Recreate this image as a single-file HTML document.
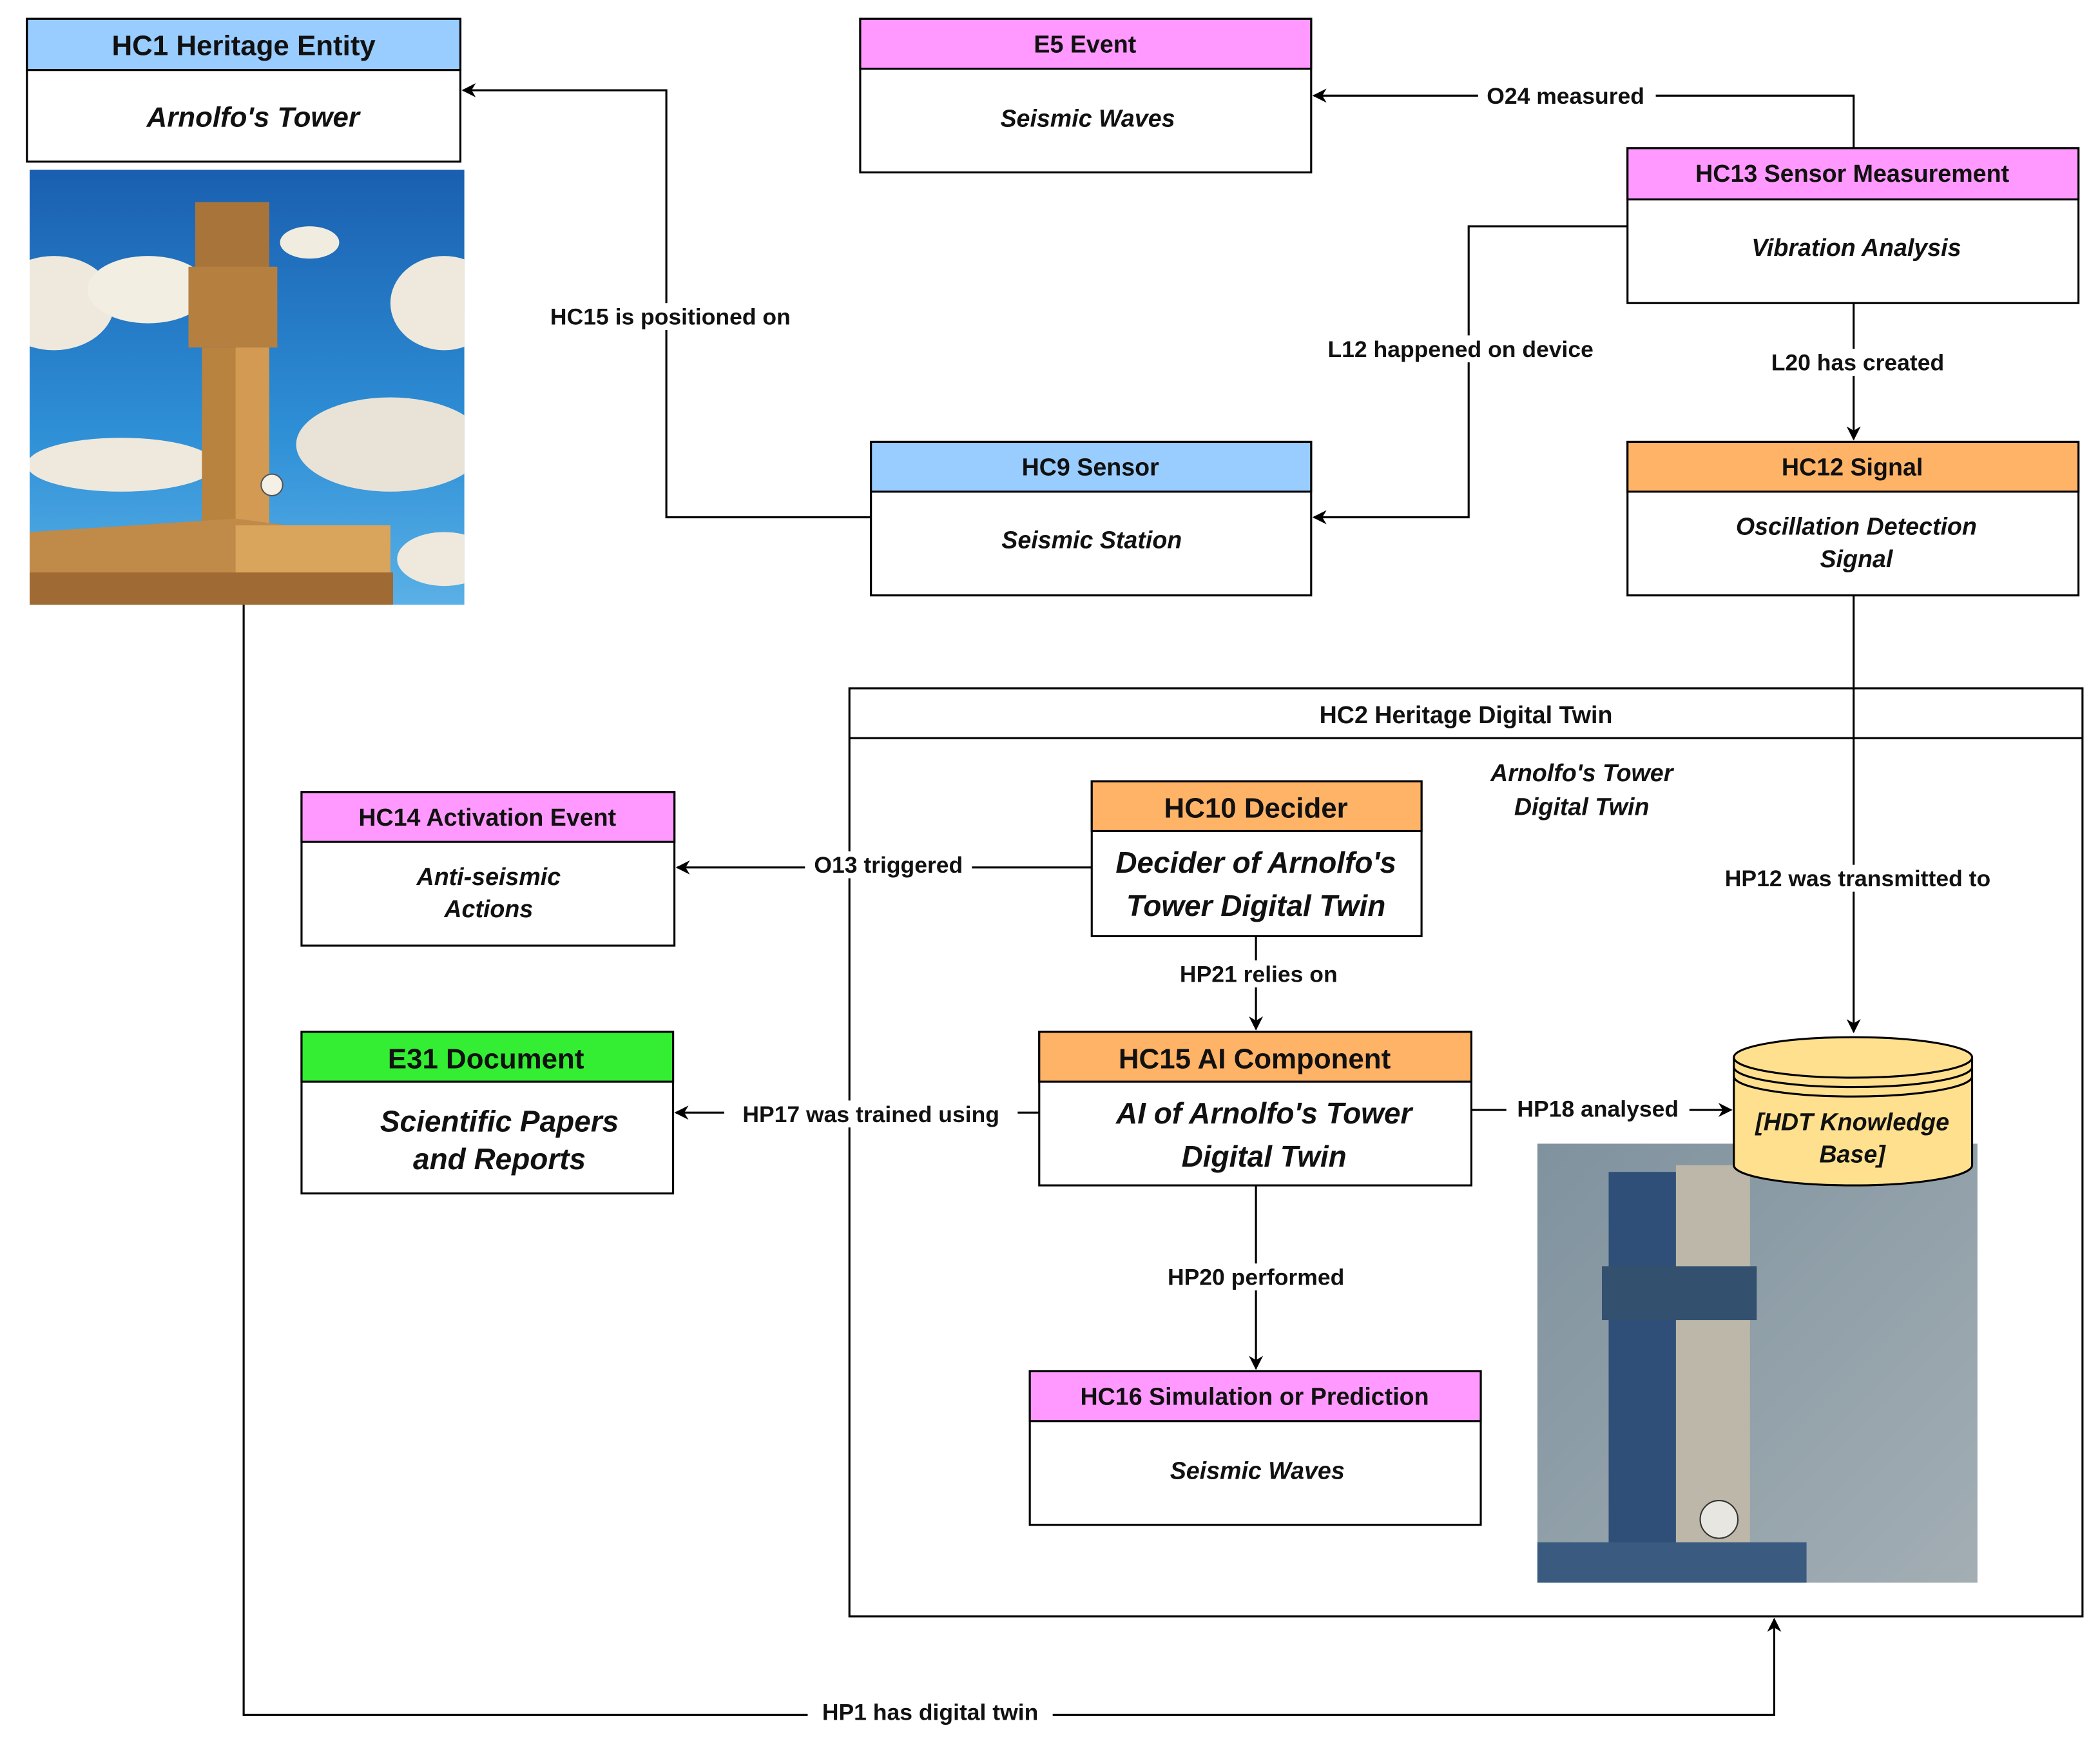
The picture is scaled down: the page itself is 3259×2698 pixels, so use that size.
<!DOCTYPE html>
<html><head><meta charset="utf-8"><style>
html,body{margin:0;padding:0;background:#fff;}
svg{display:block;}
text{font-family:"Liberation Sans",sans-serif;font-weight:bold;fill:#111;}
.it{font-style:italic;}
</style></head><body>
<svg width="3259" height="2698" viewBox="0 0 1560 1291" preserveAspectRatio="none" xmlns="http://www.w3.org/2000/svg">
<defs>
<marker id="ar" viewBox="0 0 10 10" refX="9" refY="5" markerWidth="7" markerHeight="7" orient="auto-start-reverse"><path d="M0,0 L10,5 L0,10 L3,5 z" fill="#000"/></marker>
<linearGradient id="sky" x1="0" y1="0" x2="0" y2="1"><stop offset="0" stop-color="#1a5fb0"/><stop offset="0.6" stop-color="#2e8fd6"/><stop offset="1" stop-color="#5ab0e6"/></linearGradient>
<linearGradient id="dig" x1="0" y1="0" x2="1" y2="1"><stop offset="0" stop-color="#7f929e"/><stop offset="1" stop-color="#a3aeb4"/></linearGradient>
<clipPath id="c1"><rect x="22" y="126" width="323" height="323"/></clipPath>
<clipPath id="c2"><rect x="1142" y="849" width="327" height="326"/></clipPath>
</defs>
<rect width="1560" height="1291" fill="#fff"/>

<!-- image 1 -->
<g clip-path="url(#c1)">
<rect x="22" y="126" width="323" height="323" fill="url(#sky)"/>
<ellipse cx="40" cy="225" rx="45" ry="35" fill="#eee9dc"/><ellipse cx="110" cy="215" rx="45" ry="25" fill="#f2eee2"/>
<ellipse cx="330" cy="225" rx="40" ry="35" fill="#eee9dc"/><ellipse cx="230" cy="180" rx="22" ry="12" fill="#f0ece0"/>
<ellipse cx="90" cy="345" rx="70" ry="20" fill="#eee9dc"/><ellipse cx="290" cy="330" rx="70" ry="35" fill="#e8e3d6"/>
<ellipse cx="330" cy="415" rx="35" ry="20" fill="#eee9dc"/>
<rect x="145" y="150" width="55" height="50" fill="#a8743a"/>
<rect x="140" y="198" width="66" height="60" fill="#b57f40"/>
<rect x="150" y="258" width="50" height="140" fill="#b8823f"/>
<rect x="175" y="258" width="25" height="140" fill="#d29a52"/>
<circle cx="202" cy="360" r="8" fill="#f4f0e6" stroke="#555" stroke-width="1"/>
<polygon points="22,395 175,385 290,400 290,449 22,449" fill="#c08a48"/>
<rect x="175" y="390" width="115" height="59" fill="#d9a45c"/>
<rect x="22" y="425" width="270" height="24" fill="#a06a34"/>
</g>

<!-- image 2 -->
<g clip-path="url(#c2)">
<rect x="1142" y="849" width="327" height="326" fill="url(#dig)"/>
<rect x="1195" y="870" width="50" height="300" fill="#2f4f78"/>
<rect x="1245" y="865" width="55" height="300" fill="#bcb7a8"/>
<rect x="1190" y="940" width="115" height="40" fill="#34506f"/>
<circle cx="1277" cy="1128" r="14" fill="#e8e6e0" stroke="#333"/>
<rect x="1142" y="1145" width="200" height="30" fill="#3a5a80"/>
</g>

<!-- HC2 container -->
<rect x="631" y="511" width="916" height="689" fill="none" stroke="#000" stroke-width="1.5"/>
<line x1="631" y1="548" x2="1547" y2="548" stroke="#000" stroke-width="1.5"/>
<text x="1089" y="537" font-size="18" text-anchor="middle">HC2 Heritage Digital Twin</text>
<text x="1175" y="580" font-size="18" text-anchor="middle" class="it">Arnolfo's Tower</text>
<text x="1175" y="605" font-size="18" text-anchor="middle" class="it">Digital Twin</text>

<!-- connectors -->
<g stroke="#000" stroke-width="1.5" fill="none">
<polyline points="647,384 495,384 495,67 344,67" marker-end="url(#ar)"/>
<polyline points="1377,110 1377,71 976,71" marker-end="url(#ar)"/>
<polyline points="1209,168 1091,168 1091,384 976,384" marker-end="url(#ar)"/>
<polyline points="1377,225 1377,326" marker-end="url(#ar)"/>
<polyline points="1377,442 1377,766" marker-end="url(#ar)"/>
<polyline points="811,644 503,644" marker-end="url(#ar)"/>
<polyline points="933,695 933,764" marker-end="url(#ar)"/>
<polyline points="772,826 502,826" marker-end="url(#ar)"/>
<polyline points="1093,824 1286,824" marker-end="url(#ar)"/>
<polyline points="933,880 933,1016" marker-end="url(#ar)"/>
<polyline points="181,449 181,1273 1318,1273 1318,1202" marker-end="url(#ar)"/>
</g>

<!-- connector labels -->
<g>
<rect x="396" y="225" width="206" height="20" fill="#fff"/><text x="498" y="241" text-anchor="middle" font-size="17">HC15 is positioned on</text>
<rect x="1098" y="61" width="132" height="20" fill="#fff"/><text x="1163" y="77" text-anchor="middle" font-size="17">O24 measured</text>
<rect x="972" y="249" width="228" height="20" fill="#fff"/><text x="1085" y="265" text-anchor="middle" font-size="17">L12 happened on device</text>
<rect x="1304" y="259" width="152" height="20" fill="#fff"/><text x="1380" y="275" text-anchor="middle" font-size="17">L20 has created</text>
<rect x="1264" y="642" width="232" height="20" fill="#fff"/><text x="1380" y="658" text-anchor="middle" font-size="17">HP12 was transmitted to</text>
<rect x="598" y="632" width="124" height="20" fill="#fff"/><text x="660" y="648" text-anchor="middle" font-size="17">O13 triggered</text>
<rect x="866" y="713" width="136" height="20" fill="#fff"/><text x="935" y="729" text-anchor="middle" font-size="17">HP21 relies on</text>
<rect x="538" y="817" width="218" height="20" fill="#fff"/><text x="647" y="833" text-anchor="middle" font-size="17">HP17 was trained using</text>
<rect x="1119" y="813" width="136" height="20" fill="#fff"/><text x="1187" y="829" text-anchor="middle" font-size="17">HP18 analysed</text>
<rect x="858" y="938" width="152" height="20" fill="#fff"/><text x="933" y="954" text-anchor="middle" font-size="17">HP20 performed</text>
<rect x="600" y="1261" width="182" height="20" fill="#fff"/><text x="691" y="1277" text-anchor="middle" font-size="17">HP1 has digital twin</text>
</g>

<!-- nodes -->
<g stroke="#000" stroke-width="1.5">
<rect x="20" y="14" width="322" height="106" fill="#fff"/><rect x="20" y="14" width="322" height="38" fill="#99ccff"/>
<rect x="639" y="14" width="335" height="114" fill="#fff"/><rect x="639" y="14" width="335" height="37" fill="#ff99ff"/>
<rect x="1209" y="110" width="335" height="115" fill="#fff"/><rect x="1209" y="110" width="335" height="38" fill="#ff99ff"/>
<rect x="647" y="328" width="327" height="114" fill="#fff"/><rect x="647" y="328" width="327" height="37" fill="#99ccff"/>
<rect x="1209" y="328" width="335" height="114" fill="#fff"/><rect x="1209" y="328" width="335" height="37" fill="#ffb366"/>
<rect x="224" y="588" width="277" height="114" fill="#fff"/><rect x="224" y="588" width="277" height="37" fill="#ff99ff"/>
<rect x="811" y="580" width="245" height="115" fill="#fff"/><rect x="811" y="580" width="245" height="37" fill="#ffb366"/>
<rect x="224" y="766" width="276" height="120" fill="#fff"/><rect x="224" y="766" width="276" height="37" fill="#33ee33"/>
<rect x="772" y="766" width="321" height="114" fill="#fff"/><rect x="772" y="766" width="321" height="37" fill="#ffb366"/>
<rect x="765" y="1018" width="335" height="114" fill="#fff"/><rect x="765" y="1018" width="335" height="37" fill="#ff99ff"/>
<!-- cylinder -->
<path d="M1288,785 L1288,865 A88.5,15 0 0 0 1465,865 L1465,785" fill="#ffe08f"/>
<ellipse cx="1376.5" cy="785" rx="88.5" ry="15" fill="#ffe08f"/>
<path d="M1288,792 A88.5,15 0 0 0 1465,792" fill="none"/>
<path d="M1288,799 A88.5,15 0 0 0 1465,799" fill="none"/>
</g>

<g>
<text x="181" y="41" font-size="21" text-anchor="middle">HC1 Heritage Entity</text>
<text x="188" y="94" font-size="21" text-anchor="middle" class="it">Arnolfo's Tower</text>
<text x="806" y="39" font-size="18" text-anchor="middle">E5 Event</text>
<text x="808" y="94" font-size="18" text-anchor="middle" class="it">Seismic Waves</text>
<text x="1376" y="135" font-size="18" text-anchor="middle">HC13 Sensor Measurement</text>
<text x="1379" y="190" font-size="18" text-anchor="middle" class="it">Vibration Analysis</text>
<text x="810" y="353" font-size="18" text-anchor="middle">HC9 Sensor</text>
<text x="811" y="407" font-size="18" text-anchor="middle" class="it">Seismic Station</text>
<text x="1376" y="353" font-size="18" text-anchor="middle">HC12 Signal</text>
<text x="1379" y="397" font-size="18" text-anchor="middle" class="it">Oscillation Detection</text>
<text x="1379" y="421" font-size="18" text-anchor="middle" class="it">Signal</text>
<text x="362" y="613" font-size="18" text-anchor="middle">HC14 Activation Event</text>
<text x="363" y="657" font-size="18" text-anchor="middle" class="it">Anti-seismic</text>
<text x="363" y="681" font-size="18" text-anchor="middle" class="it">Actions</text>
<text x="933" y="607" font-size="21" text-anchor="middle">HC10 Decider</text>
<text x="933" y="648" font-size="22" text-anchor="middle" class="it">Decider of Arnolfo's</text>
<text x="933" y="680" font-size="22" text-anchor="middle" class="it">Tower Digital Twin</text>
<text x="361" y="793" font-size="21" text-anchor="middle">E31 Document</text>
<text x="371" y="840" font-size="22" text-anchor="middle" class="it">Scientific Papers</text>
<text x="371" y="868" font-size="22" text-anchor="middle" class="it">and Reports</text>
<text x="932" y="793" font-size="21" text-anchor="middle">HC15 AI Component</text>
<text x="939" y="834" font-size="22" text-anchor="middle" class="it">AI of Arnolfo's Tower</text>
<text x="939" y="866" font-size="22" text-anchor="middle" class="it">Digital Twin</text>
<text x="932" y="1043" font-size="18" text-anchor="middle">HC16 Simulation or Prediction</text>
<text x="934" y="1098" font-size="18" text-anchor="middle" class="it">Seismic Waves</text>
<text x="1376" y="839" font-size="18" text-anchor="middle" class="it">[HDT Knowledge</text>
<text x="1376" y="863" font-size="18" text-anchor="middle" class="it">Base]</text>
</g>
</svg>
</body></html>
